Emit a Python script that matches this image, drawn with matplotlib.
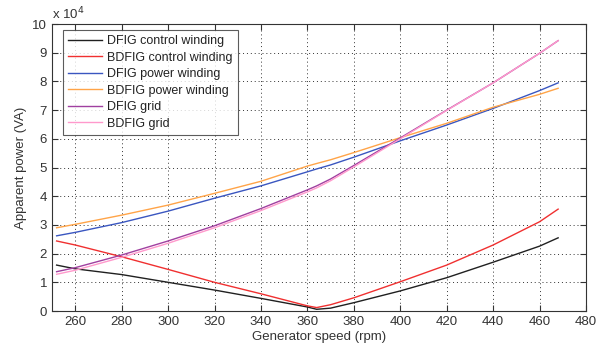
import matplotlib
matplotlib.use("Agg")
import matplotlib.pyplot as plt
from matplotlib.ticker import MultipleLocator, FuncFormatter

plt.rcParams['font.family'] = ['Liberation Sans', 'DejaVu Sans']

# generator speed (rpm)
speed = [252, 260, 280, 300, 320, 340, 360, 364, 370, 380, 400, 420, 440, 460, 468]

# apparent power, in units of 1e4 VA
dfig_cw = [1.60, 1.47, 1.27, 1.00, 0.73, 0.44, 0.14, 0.06, 0.10, 0.29, 0.70, 1.16, 1.70, 2.26, 2.55]
bdfig_cw = [2.44, 2.30, 1.89, 1.45, 1.00, 0.60, 0.18, 0.12, 0.22, 0.46, 1.02, 1.60, 2.30, 3.11, 3.55]
dfig_pw = [2.62, 2.74, 3.08, 3.48, 3.93, 4.36, 4.85, 4.95, 5.09, 5.36, 5.93, 6.48, 7.06, 7.68, 7.95]
bdfig_pw = [2.90, 3.02, 3.34, 3.69, 4.10, 4.52, 5.05, 5.14, 5.27, 5.52, 6.04, 6.54, 7.10, 7.55, 7.76]
dfig_grid = [1.37, 1.51, 1.95, 2.44, 2.97, 3.57, 4.22, 4.36, 4.60, 5.07, 6.03, 7.00, 7.95, 8.98, 9.42]
bdfig_grid = [1.28, 1.42, 1.87, 2.36, 2.90, 3.50, 4.15, 4.29, 4.54, 5.02, 6.00, 6.99, 7.95, 8.98, 9.42]

series = [
    ("DFIG control winding", dfig_cw, "#202020"),
    ("BDFIG control winding", bdfig_cw, "#f03030"),
    ("DFIG power winding", dfig_pw, "#3a56c0"),
    ("BDFIG power winding", bdfig_pw, "#ffa448"),
    ("DFIG grid", dfig_grid, "#a040a0"),
    ("BDFIG grid", bdfig_grid, "#ff99cc"),
]

fig = plt.figure(figsize=(6.03, 3.5), dpi=100)
ax = fig.add_axes([0.0862, 0.1114, 0.8856, 0.82])

for label, vals, color in series:
    ax.plot(speed, [v * 1e4 for v in vals], color=color, linewidth=1.0, label=label)

ax.set_xlim(250, 480)
ax.set_ylim(0, 1e5)
ax.xaxis.set_major_locator(MultipleLocator(20))
ax.yaxis.set_major_locator(MultipleLocator(1e4))
ax.yaxis.set_major_formatter(FuncFormatter(lambda y, _: f"{y / 1e4:.0f}"))
ax.tick_params(direction="in", top=True, right=True, length=4, labelsize=9.5, colors="#333333")
ax.grid(True, linestyle=(0, (1, 3)), color="#333333", linewidth=0.7)
for s in ax.spines.values():
    s.set_color("#333333")

ax.text(0, 1.005, r"x 10$^4$", transform=ax.transAxes, fontsize=9.5, color="#333333",
        ha="left", va="bottom")
ax.set_xlabel("Generator speed (rpm)", fontsize=9.5, color="#333333", labelpad=2)
ax.set_ylabel("Apparent power (VA)", fontsize=9.5, color="#333333", labelpad=4)

leg = ax.legend(loc="upper left", bbox_to_anchor=(0.0206, 0.979), borderaxespad=0,
                fontsize=9, frameon=True, fancybox=False, edgecolor="#333333",
                handlelength=2.7, handletextpad=0.45, borderpad=0.4,
                labelspacing=0.36)
leg.get_frame().set_linewidth(0.8)
for t in leg.get_texts():
    t.set_color("#222222")

fig.savefig("out.png", dpi=100)
plt.close(fig)
